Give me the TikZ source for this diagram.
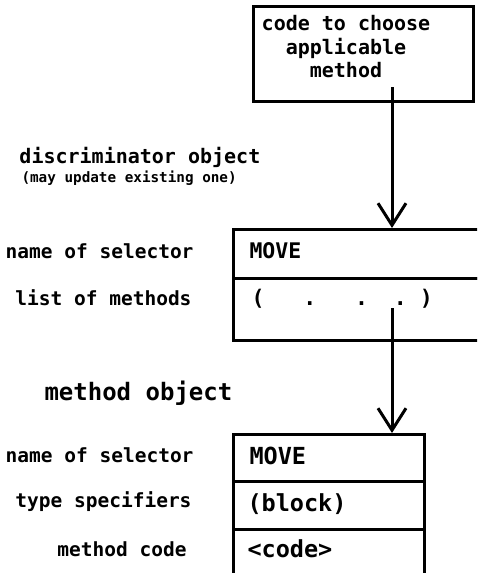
\documentclass[tikz,border=0pt]{standalone}
\usepackage{fontspec}
\newfontfamily\plotfont{DejaVu Sans Mono}
\usetikzlibrary{arrows.meta}

\begin{document}
\begin{tikzpicture}[x=1pt,y=-1pt,line width=3pt,
  box/.style={shape=rectangle,draw=black,anchor=north west,inner sep=0pt},
  lbl/.style={anchor=base east,inner sep=0pt,font=\plotfont\bfseries\fontsize{19.5}{22}\selectfont},
  val/.style={anchor=base west,inner sep=0pt,font=\plotfont\bfseries\fontsize{21.5}{24}\selectfont},
  bigval/.style={anchor=base west,inner sep=0pt,font=\plotfont\bfseries\fontsize{23.5}{26}\selectfont},
  >={Straight Barb[length=22pt,width=28pt]}]
\clip (0,0) rectangle (477,573);

% code that picks the method
\node[box,minimum width=220,minimum height=95] (choose) at (252,5) {};
\node[inner sep=0pt,align=center,font=\plotfont\bfseries\fontsize{20}{23.5}\selectfont] (choosetxt) at (346,47) {code to choose\\applicable\\method};
\coordinate (c1) at (392,87);

% discriminator object
\node[anchor=base west,inner sep=0pt,font=\plotfont\bfseries\fontsize{20}{24}\selectfont] (disctitle) at (18,163) {discriminator object};
\node[anchor=base west,inner sep=0pt,font=\plotfont\bfseries\fontsize{14.3}{17}\selectfont] (discnote) at (20,182) {(may update existing one)};
\node[box,minimum width=300,minimum height=49] (dsel) at (232,228) {};
\node[box,minimum width=300,minimum height=62] (dlist) at (232,277) {};
\node[lbl] (dsellbl) at (195,258) {name of selector};
\node[lbl] (dlistlbl) at (193,305) {list of methods};
\node[val] (dselval) at (248,258) {MOVE};
\node[val] (dlistval) at (250,305) {(~~~.~~~.~~.~)};
\coordinate (c2) at (392,308);

% method object
\node[anchor=base west,inner sep=0pt,font=\plotfont\bfseries\fontsize{24}{28}\selectfont] (mtitle) at (43,400) {method object};
\node[box,minimum width=191,minimum height=47] (msel) at (232,433) {};
\node[box,minimum width=191,minimum height=48] (mtype) at (232,480) {};
\node[box,minimum width=191,minimum height=80] (mcode) at (232,528) {};
\node[lbl] (msellbl) at (195,462) {name of selector};
\node[lbl] (mtypelbl) at (193,507) {type specifiers};
\node[lbl] (mcodelbl) at (188,556) {method code};
\node[bigval] (mselval) at (248,464) {MOVE};
\node[bigval] (mtypeval) at (246,511) {(block)};
\node[bigval] (mcodeval) at (246,557) {<code>};

\path [->] (c1) edge (c1 |- dsel.north);
\path [->] (c2) edge (c2 |- msel.north);
\end{tikzpicture}
\end{document}
